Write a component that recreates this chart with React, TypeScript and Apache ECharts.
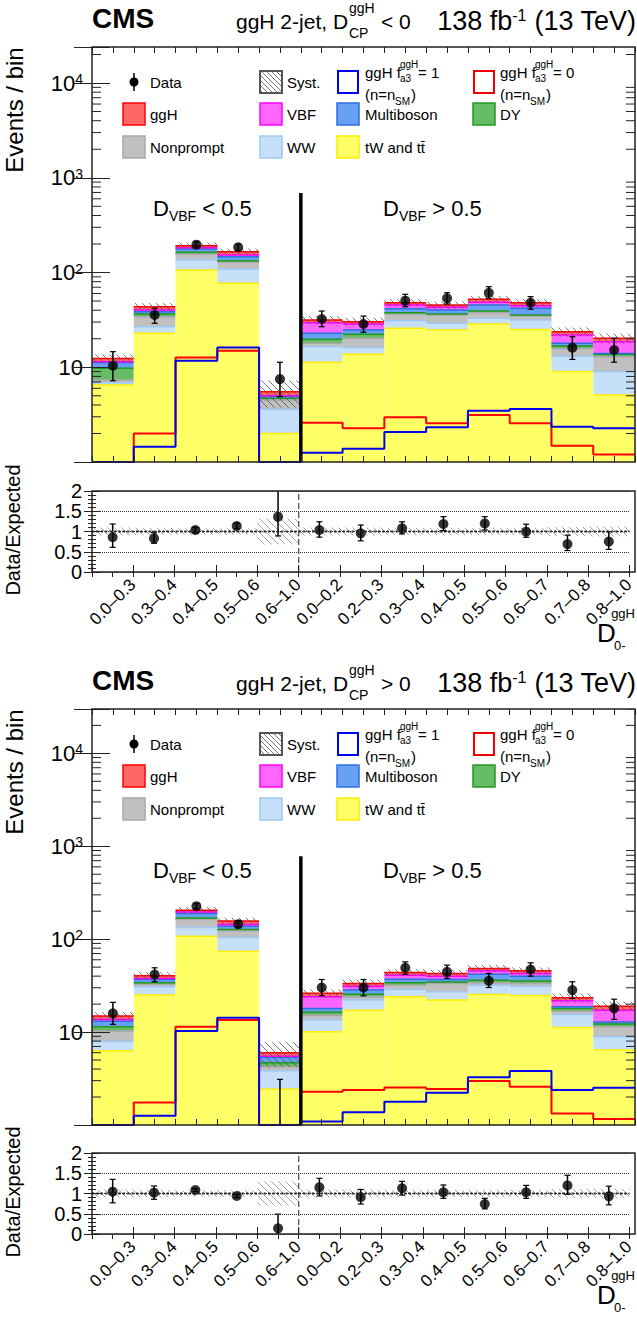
import React, { useEffect, useRef } from "react";
import * as echarts from "echarts";

const FONT = "'Liberation Sans', Arial, Helvetica, sans-serif";

// ---------------- categories ----------------
const binLabels = [
  "0.0–0.3", "0.3–0.4", "0.4–0.5", "0.5–0.6", "0.6–1.0",
  "0.0–0.2", "0.2–0.3", "0.3–0.4", "0.4–0.5", "0.5–0.6", "0.6–0.7", "0.7–0.8", "0.8–1.0",
];
// stack order bottom -> top
const processNames = ["tW and tt̄", "WW", "Nonprompt", "DY", "Multiboson", "VBF", "ggH"];
const processFill = ["#ffff66", "#c6e0fa", "#c0c0c0", "#66bb66", "#66a0f5", "#ff66ff", "#ff6666"];
const processEdge = ["#ffee00", "#9ec8f2", "#a8a8a8", "#229922", "#2f6fe0", "#ff00ff", "#ff0000"];

// ---------------- panel 1 : D_CP < 0 ----------------
const p1Ttbar = [6.5, 22.8, 106, 76.9, 2.0, 11.3, 13.7, 25.8, 24.7, 28.6, 25.1, 9.0, 5.1];
const p1WW = [0.37, 4.0, 29.5, 32, 1.6, 5.2, 2.5, 5.2, 4.4, 4.3, 6.4, 4.1, 3.9];
const p1Nonprompt = [0.46, 7.4, 20.1, 19.1, 0.9, 1.4, 4.0, 5.5, 6.5, 4.8, 3.2, 2.7, 3.9];
const p1DY = [2.42, 2.3, 7.8, 5.3, 0.2, 1.8, 2.1, 1.1, 0.9, 1.5, 0.9, 1.0, 0.8];
const p1Multiboson = [1.45, 2.1, 13.6, 13.7, 0.2, 3.1, 2.4, 3.9, 3.7, 6.2, 6.3, 1.1, 0.3];
const p1VBF = [0.2, 1.6, 5.7, 6.0, 0.1, 6.7, 3.9, 3.9, 2.7, 3.1, 2.7, 4.0, 4.6];
const p1ggH = [1.0, 3.4, 9.1, 12.8, 0.5, 2.0, 1.7, 2.6, 2.5, 3.6, 3.4, 1.8, 1.6];
const p1Syst = [0.1, 0.09, 0.08, 0.08, 0.32, 0.1, 0.1, 0.09, 0.09, 0.09, 0.09, 0.11, 0.12];
const p1Data = [10.4, 35.6, 196.6, 184.5, 7.5, 32.3, 28.6, 50.4, 53.4, 61.2, 48, 16.1, 15.2];
const p1DataLo = [7.2, 29.1, 183, 171, 4.9, 26.8, 23.4, 43.5, 46.5, 53.4, 40.9, 12.1, 11.3];
const p1DataHi = [14.6, 41.9, 211, 198, 11.3, 39.2, 34.7, 58.9, 61.2, 70.8, 55.6, 21, 20.2];
const p1Fa3One = [0.5, 1.45, 11.7, 16.2, 0.5, 1.25, 1.38, 2.07, 2.32, 3.48, 3.63, 2.36, 2.27];
const p1Fa3Zero = [0.5, 2.0, 12.7, 14.9, 0.5, 2.6, 2.27, 2.96, 2.56, 3.13, 2.56, 1.48, 1.2];
const p1Ratio = [0.857, 0.83, 1.037, 1.136, 1.366, 1.037, 0.955, 1.078, 1.185, 1.2, 0.995, 0.69, 0.75];
const p1RatioLo = [0.61, 0.71, 0.97, 1.07, 0.89, 0.86, 0.77, 0.94, 1.02, 1.037, 0.857, 0.53, 0.56];
const p1RatioHi = [1.185, 0.97, 1.1, 1.2, 2.3, 1.24, 1.16, 1.24, 1.366, 1.366, 1.18, 0.91, 0.995];

// ---------------- panel 2 : D_CP > 0 ----------------
const p2Ttbar = [6.3, 25, 107.7, 74.3, 2.42, 10.1, 17.2, 24, 22.1, 25.4, 24.8, 11.2, 6.4];
const p2WW = [1.6, 5.7, 25.9, 30, 1.42, 3.4, 4.9, 4.8, 5.1, 6.6, 6.4, 4.3, 2.5];
const p2Nonprompt = [2.4, 2.1, 29.1, 18.7, 0.4, 1.7, 1.9, 3.2, 6.2, 1.9, 2.2, 1.3, 2.5];
const p2DY = [1.1, 1.1, 6.7, 4.0, 0.44, 1.1, 1.6, 1.9, 1.1, 2.3, 2.0, 1.1, 0.8];
const p2Multiboson = [1.7, 2.9, 19.4, 11, 0.67, 1.6, 2.7, 3.2, 2.3, 5.8, 4.6, 0.8, 0.6];
const p2VBF = [0.6, 1.0, 7.8, 6.0, 0.15, 6.1, 2.9, 3.9, 3.2, 3.6, 2.8, 3.0, 4.4];
const p2ggH = [1.2, 2.6, 8.4, 13.3, 0.5, 2.1, 2.2, 2.9, 2.8, 2.8, 2.8, 1.7, 1.8];
const p2Syst = [0.1, 0.09, 0.08, 0.08, 0.3, 0.1, 0.1, 0.09, 0.09, 0.09, 0.09, 0.11, 0.12];
const p2Data = [15.9, 41.7, 226.5, 145, 0.9, 30.2, 30.2, 49.2, 44.5, 35.6, 47.2, 28.3, 18];
const p2DataLo = [12.1, 34.8, 212, 133, 0, 24.6, 24.6, 42, 37.8, 30.2, 40, 23, 13.7];
const p2DataHi = [20.9, 49.2, 241, 157, 3.1, 36.8, 36.8, 57, 52.5, 42.8, 55.6, 34.8, 22.6];
const p2Fa3One = [0.5, 1.26, 10.3, 14.3, 0.5, 1.09, 1.37, 1.78, 2.23, 3.26, 3.81, 2.38, 2.52];
const p2Fa3Zero = [0.5, 1.75, 11.4, 13.5, 0.5, 2.28, 2.38, 2.54, 2.44, 2.97, 2.58, 1.33, 1.16];
const p2Ratio = [1.045, 1.02, 1.086, 0.938, 0.14, 1.153, 0.91, 1.13, 1.03, 0.74, 1.03, 1.2, 0.93];
const p2RatioLo = [0.77, 0.857, 1.05, 0.9, 0, 0.94, 0.74, 0.96, 0.88, 0.62, 0.88, 0.98, 0.72];
const p2RatioHi = [1.35, 1.185, 1.12, 0.98, 0.49, 1.375, 1.1, 1.3, 1.21, 0.88, 1.2, 1.45, 1.18];

// ---------------- axis ticks / labels ----------------
const logLabelPowers = [10, 100, 1000, 10000];
const ratioTickLabels = ["0", "0.5", "1", "1.5", "2"];
const minorMultipliers = [2, 3, 4, 5, 6, 7, 8, 9];
const decades = [1, 10, 100, 1000, 10000];

const panels = [
  {
    off: 0, mainH: 415, yMax: 2.4e4, sepTop: 690, sign: "<",
    stacks: [p1Ttbar, p1WW, p1Nonprompt, p1DY, p1Multiboson, p1VBF, p1ggH],
    syst: p1Syst, data: p1Data, dataLo: p1DataLo, dataHi: p1DataHi,
    fa3One: p1Fa3One, fa3Zero: p1Fa3Zero, ratio: p1Ratio, ratioLo: p1RatioLo, ratioHi: p1RatioHi,
  },
  {
    off: 662, mainH: 416, yMax: 3.0e4, sepTop: 780, sign: ">",
    stacks: [p2Ttbar, p2WW, p2Nonprompt, p2DY, p2Multiboson, p2VBF, p2ggH],
    syst: p2Syst, data: p2Data, dataLo: p2DataLo, dataHi: p2DataHi,
    fa3One: p2Fa3One, fa3Zero: p2Fa3Zero, ratio: p2Ratio, ratioLo: p2RatioLo, ratioHi: p2RatioHi,
  },
];

const GL = 92, GW = 543;

function hatch(x0: number, y0: number, x1: number, y1: number, step: number, stroke: string, lw: number) {
  const els: any[] = [];
  if (y1 < y0) { const t = y0; y0 = y1; y1 = t; }
  const cStart = Math.ceil((x0 - y1) / step) * step;
  for (let c = cStart; c <= x1 - y0; c += step) {
    const xa = Math.max(x0, y0 + c), xb = Math.min(x1, y1 + c);
    if (xb > xa) {
      els.push({ type: "line", shape: { x1: xa, y1: xa - c, x2: xb, y2: xb - c }, style: { stroke, lineWidth: lw } });
    }
  }
  return els;
}

function T(x: number, y: number, text: string, size: number, o: any = {}) {
  const align = o.align || "left";
  const va = o.va || "middle";
  return {
    type: "text", x, y, z: 100, silent: true, rotation: o.rot || 0,
    style: {
      text, fontSize: size, fontFamily: FONT, fontWeight: o.bold ? "bold" : "normal", fill: o.fill || "#000",
      align, verticalAlign: va, textAlign: align, textVerticalAlign: va, rich: o.rich,
    },
  };
}

function legendEls(off: number) {
  const els: any[] = [];
  const r1 = 82 + off, r2 = 114 + off, r3 = 147 + off;
  const S = 22;
  const cols = [123, 260, 337, 473];
  const txs = [150, 287, 365, 500];
  // Data
  els.push({ type: "line", z: 100, shape: { x1: 134, y1: r1 - 9, x2: 134, y2: r1 + 9 }, style: { stroke: "#000", lineWidth: 1.5 } });
  els.push({ type: "circle", z: 100, shape: { cx: 134, cy: r1, r: 4.5 }, style: { fill: "#000" } });
  els.push(T(txs[0], r1, "Data", 15));
  // Syst
  els.push({ type: "group", z: 100, children: hatch(cols[1], r1 - 11, cols[1] + S, r1 + 11, 5, "#555", 0.8).map((e) => ({ ...e, z: 100 })) });
  els.push({ type: "rect", z: 100, shape: { x: cols[1], y: r1 - 11, width: S, height: S }, style: { fill: "none", stroke: "#555", lineWidth: 2 } });
  els.push(T(txs[1], r1, "Syst.", 15));
  // f_a3 lines
  const fa3 = [[cols[2], txs[2], "#0000ee", "= 1"], [cols[3], txs[3], "#ee0000", "= 0"]] as any[];
  fa3.forEach(([cx, tx, col, eq]) => {
    els.push({ type: "rect", z: 100, shape: { x: cx + 1, y: r1 - 11, width: S - 2, height: S }, style: { fill: "none", stroke: col, lineWidth: 2 } });
    els.push(T(tx, r1 - 10, "ggH f", 15));
    els.push(T(tx + 35, r1 - 18, "ggH", 10));
    els.push(T(tx + 35, r1 - 4, "a3", 10));
    els.push(T(tx + 53, r1 - 10, eq, 15));
    els.push(T(tx, r1 + 12, "(n=n", 15));
    els.push(T(tx + 30, r1 + 19, "SM", 10));
    els.push(T(tx + 46, r1 + 12, ")", 15));
  });
  // filled
  const rows: [number, number, number][] = [
    [r2, 0, 6], [r2, 1, 5], [r2, 2, 4], [r2, 3, 3],
    [r3, 0, 2], [r3, 1, 1], [r3, 2, 0],
  ];
  rows.forEach(([ry, c, p]) => {
    els.push({ type: "rect", z: 100, shape: { x: cols[c], y: ry - 11, width: S, height: S }, style: { fill: processFill[p], stroke: processEdge[p], lineWidth: 1.5 } });
    els.push(T(txs[c], ry, processNames[p], 15));
  });
  return els;
}

function buildOption() {
  const grid: any[] = [], xAxis: any[] = [], yAxis: any[] = [], series: any[] = [], elements: any[] = [];
  const tickStyle = { color: "#222", width: 1 };
  const binCenters = binLabels.map((_, i) => i + 0.5);
  const minorVals: number[] = [];
  decades.forEach((d) => minorMultipliers.forEach((m) => minorVals.push(m * d)));

  panels.forEach((P) => {
    const off = P.off;
    const mainTop = 47 + off, ratioTop = 491 + off;
    const gM = grid.length;
    grid.push({ left: GL, top: mainTop, width: GW, height: P.mainH });
    const gR = grid.length;
    grid.push({ left: GL, top: ratioTop, width: GW, height: 81 });

    const baseX = { type: "value", min: 0, max: 13, z: 10, axisLine: { show: false }, splitLine: { show: false } };
    const xM = xAxis.length;
    xAxis.push({ ...baseX, gridIndex: gM, position: "bottom", interval: 0.5, axisLabel: { show: false }, axisTick: { inside: true, length: 6, lineStyle: tickStyle } });
    xAxis.push({ ...baseX, gridIndex: gM, position: "top", interval: 0.5, axisLabel: { show: false }, axisTick: { inside: true, length: 6, lineStyle: tickStyle } });
    const xR = xAxis.length;
    xAxis.push({
      ...baseX, gridIndex: gR, position: "bottom", interval: 1,
      axisTick: { inside: true, length: 7, lineStyle: tickStyle },
      axisLabel: {
        customValues: binCenters, formatter: (v: number) => binLabels[Math.floor(v)],
        rotate: 45, align: "center", verticalAlign: "middle", margin: 30,
        fontSize: 17, fontFamily: FONT, color: "#000",
      },
    });
    xAxis.push({ ...baseX, gridIndex: gR, position: "top", interval: 0.5, axisLabel: { show: false }, axisTick: { inside: true, length: 5, lineStyle: tickStyle } });

    const logAxis = {
      type: "log", logBase: 10, gridIndex: gM, min: 1, max: P.yMax, z: 10,
      axisLine: { show: false }, splitLine: { show: false },
      axisTick: { inside: true, length: 18, lineStyle: tickStyle },
    };
    const yM = yAxis.length;
    yAxis.push({
      ...logAxis, position: "left",
      axisLabel: {
        margin: 9, color: "#000",
        formatter: (v: number) => {
          const hit = logLabelPowers.find((p) => Math.abs(p - v) / p < 1e-6);
          if (!hit) return "";
          const e = Math.round(Math.log10(hit));
          return e === 1 ? "{b|10}" : `{b|10}{s|${e}}`;
        },
        rich: {
          b: { fontSize: 22, fontFamily: FONT, color: "#000", lineHeight: 22, verticalAlign: "middle" },
          s: { fontSize: 14, fontFamily: FONT, color: "#000", lineHeight: 22, verticalAlign: "top" },
        },
      },
    });
    yAxis.push({ ...logAxis, position: "right", axisLabel: { show: false } });

    const ratioAxis = {
      type: "value", gridIndex: gR, min: 0, max: 2, interval: 0.5, z: 10,
      axisLine: { show: false },
      axisTick: { inside: true, length: 8, lineStyle: tickStyle },
      minorTick: { show: true, splitNumber: 5, length: 4, lineStyle: tickStyle },
    };
    const yR = yAxis.length;
    yAxis.push({
      ...ratioAxis, position: "left",
      splitLine: { show: true, lineStyle: { type: "dotted", color: "#333", width: 1 } },
      axisLabel: {
        margin: 10, fontSize: 20, fontFamily: FONT, color: "#000",
        formatter: (v: number) => ratioTickLabels[Math.round(v * 2)] ?? "",
      },
    });
    yAxis.push({ ...ratioAxis, position: "right", splitLine: { show: false }, axisLabel: { show: false } });

    const totals = binLabels.map((_, i) => P.stacks.reduce((s, a) => s + a[i], 0));

    // ---- stacked histogram + syst hatch
    series.push({
      type: "custom", xAxisIndex: xM, yAxisIndex: yM, clip: true, silent: true, z: 2,
      data: binLabels.map((_, i) => [i + 0.5, totals[i]]),
      encode: { x: 0, y: 1 },
      renderItem: (params: any, api: any) => {
        const i = params.dataIndex;
        const xa = api.coord([i, 1])[0], xb = api.coord([i + 1, 1])[0];
        const rects: any[] = [], edges: any[] = [];
        let cum = 0;
        P.stacks.forEach((arr, k) => {
          const lo = cum; cum += arr[i];
          const yLo = api.coord([i, Math.max(lo, 1)])[1];
          const yHi = api.coord([i, Math.max(cum, 1)])[1];
          rects.push({ type: "rect", shape: { x: xa, y: yHi, width: xb - xa, height: yLo - yHi }, style: { fill: processFill[k] } });
          edges.push({ type: "line", shape: { x1: xa, y1: yHi, x2: xb, y2: yHi }, style: { stroke: processEdge[k], lineWidth: 1.5 } });
        });
        const s = P.syst[i];
        const yA = api.coord([i, cum * (1 + s)])[1], yB = api.coord([i, cum * (1 - s)])[1];
        const h = hatch(xa, yA, xb, yB, 7, "#555", 0.8);
        return { type: "group", children: [...rects, ...edges, ...h] };
      },
    });
    // ---- minor log ticks (left & right)
    series.push({
      type: "custom", xAxisIndex: xM, yAxisIndex: yM, clip: true, silent: true, z: 3,
      data: minorVals.filter((v) => v <= P.yMax).map((v) => [0, v]),
      encode: { x: 0, y: 1 },
      renderItem: (params: any, api: any) => {
        const v = api.value(1);
        const [xl, y] = api.coord([0, v]);
        const xr = api.coord([13, v])[0];
        return {
          type: "group", children: [
            { type: "line", shape: { x1: xl, y1: y, x2: xl + 9, y2: y }, style: { stroke: "#222", lineWidth: 1 } },
            { type: "line", shape: { x1: xr - 9, y1: y, x2: xr, y2: y }, style: { stroke: "#222", lineWidth: 1 } },
          ],
        };
      },
    });
    // ---- f_a3 step lines
    const stepData = (vals: number[]) => {
      const d = vals.map((v, i) => [i, Math.max(v, 1)]);
      d.push([13, Math.max(vals[vals.length - 1], 1)]);
      return d;
    };
    series.push({
      type: "line", xAxisIndex: xM, yAxisIndex: yM, step: "end", symbol: "none", silent: true, z: 4,
      data: stepData(P.fa3Zero), lineStyle: { color: "#ff0000", width: 2 },
    });
    series.push({
      type: "line", xAxisIndex: xM, yAxisIndex: yM, step: "end", symbol: "none", silent: true, z: 4,
      data: stepData(P.fa3One), lineStyle: { color: "#0000ee", width: 2 },
    });
    // ---- separator
    series.push({
      type: "line", xAxisIndex: xM, yAxisIndex: yM, symbol: "none", silent: true, z: 5,
      data: [[5, 1], [5, P.sepTop]], lineStyle: { color: "#000", width: 3.5 },
    });
    // ---- data error bars
    const errBars = (lo: number[], hi: number[], yMin: number, yMaxV: number) => (params: any, api: any) => {
      const i = params.dataIndex;
      const x = api.coord([i + 0.5, 1])[0];
      const l = Math.max(lo[i], yMin), hv = Math.min(hi[i], yMaxV);
      const yl = api.coord([i + 0.5, l])[1], yh = api.coord([i + 0.5, hv])[1];
      const ch: any[] = [{ type: "line", shape: { x1: x, y1: yl, x2: x, y2: yh }, style: { stroke: "#000", lineWidth: 1.5 } }];
      if (lo[i] > yMin) ch.push({ type: "line", shape: { x1: x - 3, y1: yl, x2: x + 3, y2: yl }, style: { stroke: "#000", lineWidth: 1.2 } });
      if (hi[i] < yMaxV) ch.push({ type: "line", shape: { x1: x - 3, y1: yh, x2: x + 3, y2: yh }, style: { stroke: "#000", lineWidth: 1.2 } });
      return { type: "group", children: ch };
    };
    series.push({
      type: "custom", xAxisIndex: xM, yAxisIndex: yM, clip: true, silent: true, z: 6,
      data: P.data.map((v, i) => [i + 0.5, Math.max(v, 1)]), encode: { x: 0, y: 1 },
      renderItem: errBars(P.dataLo, P.dataHi, 1, P.yMax),
    });
    series.push({
      type: "scatter", xAxisIndex: xM, yAxisIndex: yM, clip: true, silent: true, z: 7,
      symbol: "circle", symbolSize: 10, itemStyle: { color: "#000" },
      data: P.data.map((v, i) => [i + 0.5, v]),
    });

    // ---- ratio panel
    series.push({
      type: "custom", xAxisIndex: xR, yAxisIndex: yR, clip: true, silent: true, z: 2,
      data: binLabels.map((_, i) => [i + 0.5, 1]), encode: { x: 0, y: 1 },
      renderItem: (params: any, api: any) => {
        const i = params.dataIndex;
        const xa = api.coord([i, 1])[0], xb = api.coord([i + 1, 1])[0];
        const s = P.syst[i];
        const yA = api.coord([i, 1 + s])[1], yB = api.coord([i, 1 - s])[1];
        return { type: "group", children: hatch(xa, yA, xb, yB, 7, "#9a9a9a", 0.9) };
      },
    });
    series.push({
      type: "line", xAxisIndex: xR, yAxisIndex: yR, symbol: "none", silent: true, z: 3,
      data: [[0, 1], [13, 1]], lineStyle: { color: "#222", width: 2.2, type: "dotted" },
    });
    series.push({
      type: "line", xAxisIndex: xR, yAxisIndex: yR, symbol: "none", silent: true, z: 3,
      data: [[5, 0], [5, 2]], lineStyle: { color: "#444", width: 1.2, type: [6, 3] },
    });
    series.push({
      type: "custom", xAxisIndex: xR, yAxisIndex: yR, clip: true, silent: true, z: 6,
      data: P.ratio.map((v, i) => [i + 0.5, v]), encode: { x: 0, y: 1 },
      renderItem: errBars(P.ratioLo, P.ratioHi, 0, 2),
    });
    series.push({
      type: "scatter", xAxisIndex: xR, yAxisIndex: yR, clip: true, silent: true, z: 7,
      symbol: "circle", symbolSize: 10, itemStyle: { color: "#000" },
      data: P.ratio.map((v, i) => [i + 0.5, v]),
    });

    // ---- frames
    elements.push({ type: "rect", z: 100, silent: true, shape: { x: GL, y: mainTop, width: GW, height: P.mainH }, style: { fill: "none", stroke: "#222", lineWidth: 1.5 } });
    elements.push({ type: "rect", z: 100, silent: true, shape: { x: GL, y: ratioTop, width: GW, height: 81 }, style: { fill: "none", stroke: "#222", lineWidth: 1.5 } });

    // ---- texts
    elements.push(T(GL, 18 + off, "CMS", 28, { bold: true }));
    elements.push(T(236, 21 + off, "ggH 2-jet, D", 21));
    elements.push(T(349, 8 + off, "ggH", 14));
    elements.push(T(349, 33 + off, "CP", 14));
    elements.push(T(381, 21 + off, P.sign + " 0", 21));
    elements.push(T(636, 21 + off, "{b|138 fb}{s|-1}{b| (13 TeV)}", 27, {
      align: "right",
      rich: {
        b: { fontSize: 27, fontFamily: FONT, fill: "#000", lineHeight: 28, verticalAlign: "middle" },
        s: { fontSize: 16, fontFamily: FONT, fill: "#000", lineHeight: 28, verticalAlign: "top" },
      },
    }));
    elements.push(T(14, 110 + off, "Events / bin", 24, { align: "center", rot: Math.PI / 2 }));
    elements.push(T(13, 530 + off, "Data/Expected", 20, { align: "center", rot: Math.PI / 2 }));
    const vbfRich = {
      b: { fontSize: 22, fontFamily: FONT, fill: "#000", lineHeight: 30, verticalAlign: "middle" },
      sub: { fontSize: 14, fontFamily: FONT, fill: "#000", lineHeight: 30, verticalAlign: "bottom" },
    };
    elements.push(T(153, 208 + off, "{b|D}{sub|VBF}{b| < 0.5}", 22, { rich: vbfRich }));
    elements.push(T(383, 208 + off, "{b|D}{sub|VBF}{b| > 0.5}", 22, { rich: vbfRich }));
    // x-axis title D_0-^ggH
    elements.push(T(597, 633 + off, "D", 26));
    elements.push(T(635, 613 + off, "ggH", 13, { align: "right" }));
    elements.push(T(614, 645 + off, "0-", 13));

    legendEls(off).forEach((e) => elements.push(e));
  });

  return {
    animation: false,
    backgroundColor: "#fff",
    grid, xAxis, yAxis, series,
    graphic: { elements },
  };
}

export default function App() {
  const ref = useRef<HTMLDivElement>(null);
  useEffect(() => {
    if (!ref.current) return;
    const chart = echarts.init(ref.current, undefined, { renderer: "svg", width: 637, height: 1317 });
    chart.setOption(buildOption() as any);
    return () => chart.dispose();
  }, []);
  return (
    <div
      ref={ref}
      style={{ position: "absolute", left: 0, top: 0, width: 637, height: 1317, background: "#fff" }}
    />
  );
}
